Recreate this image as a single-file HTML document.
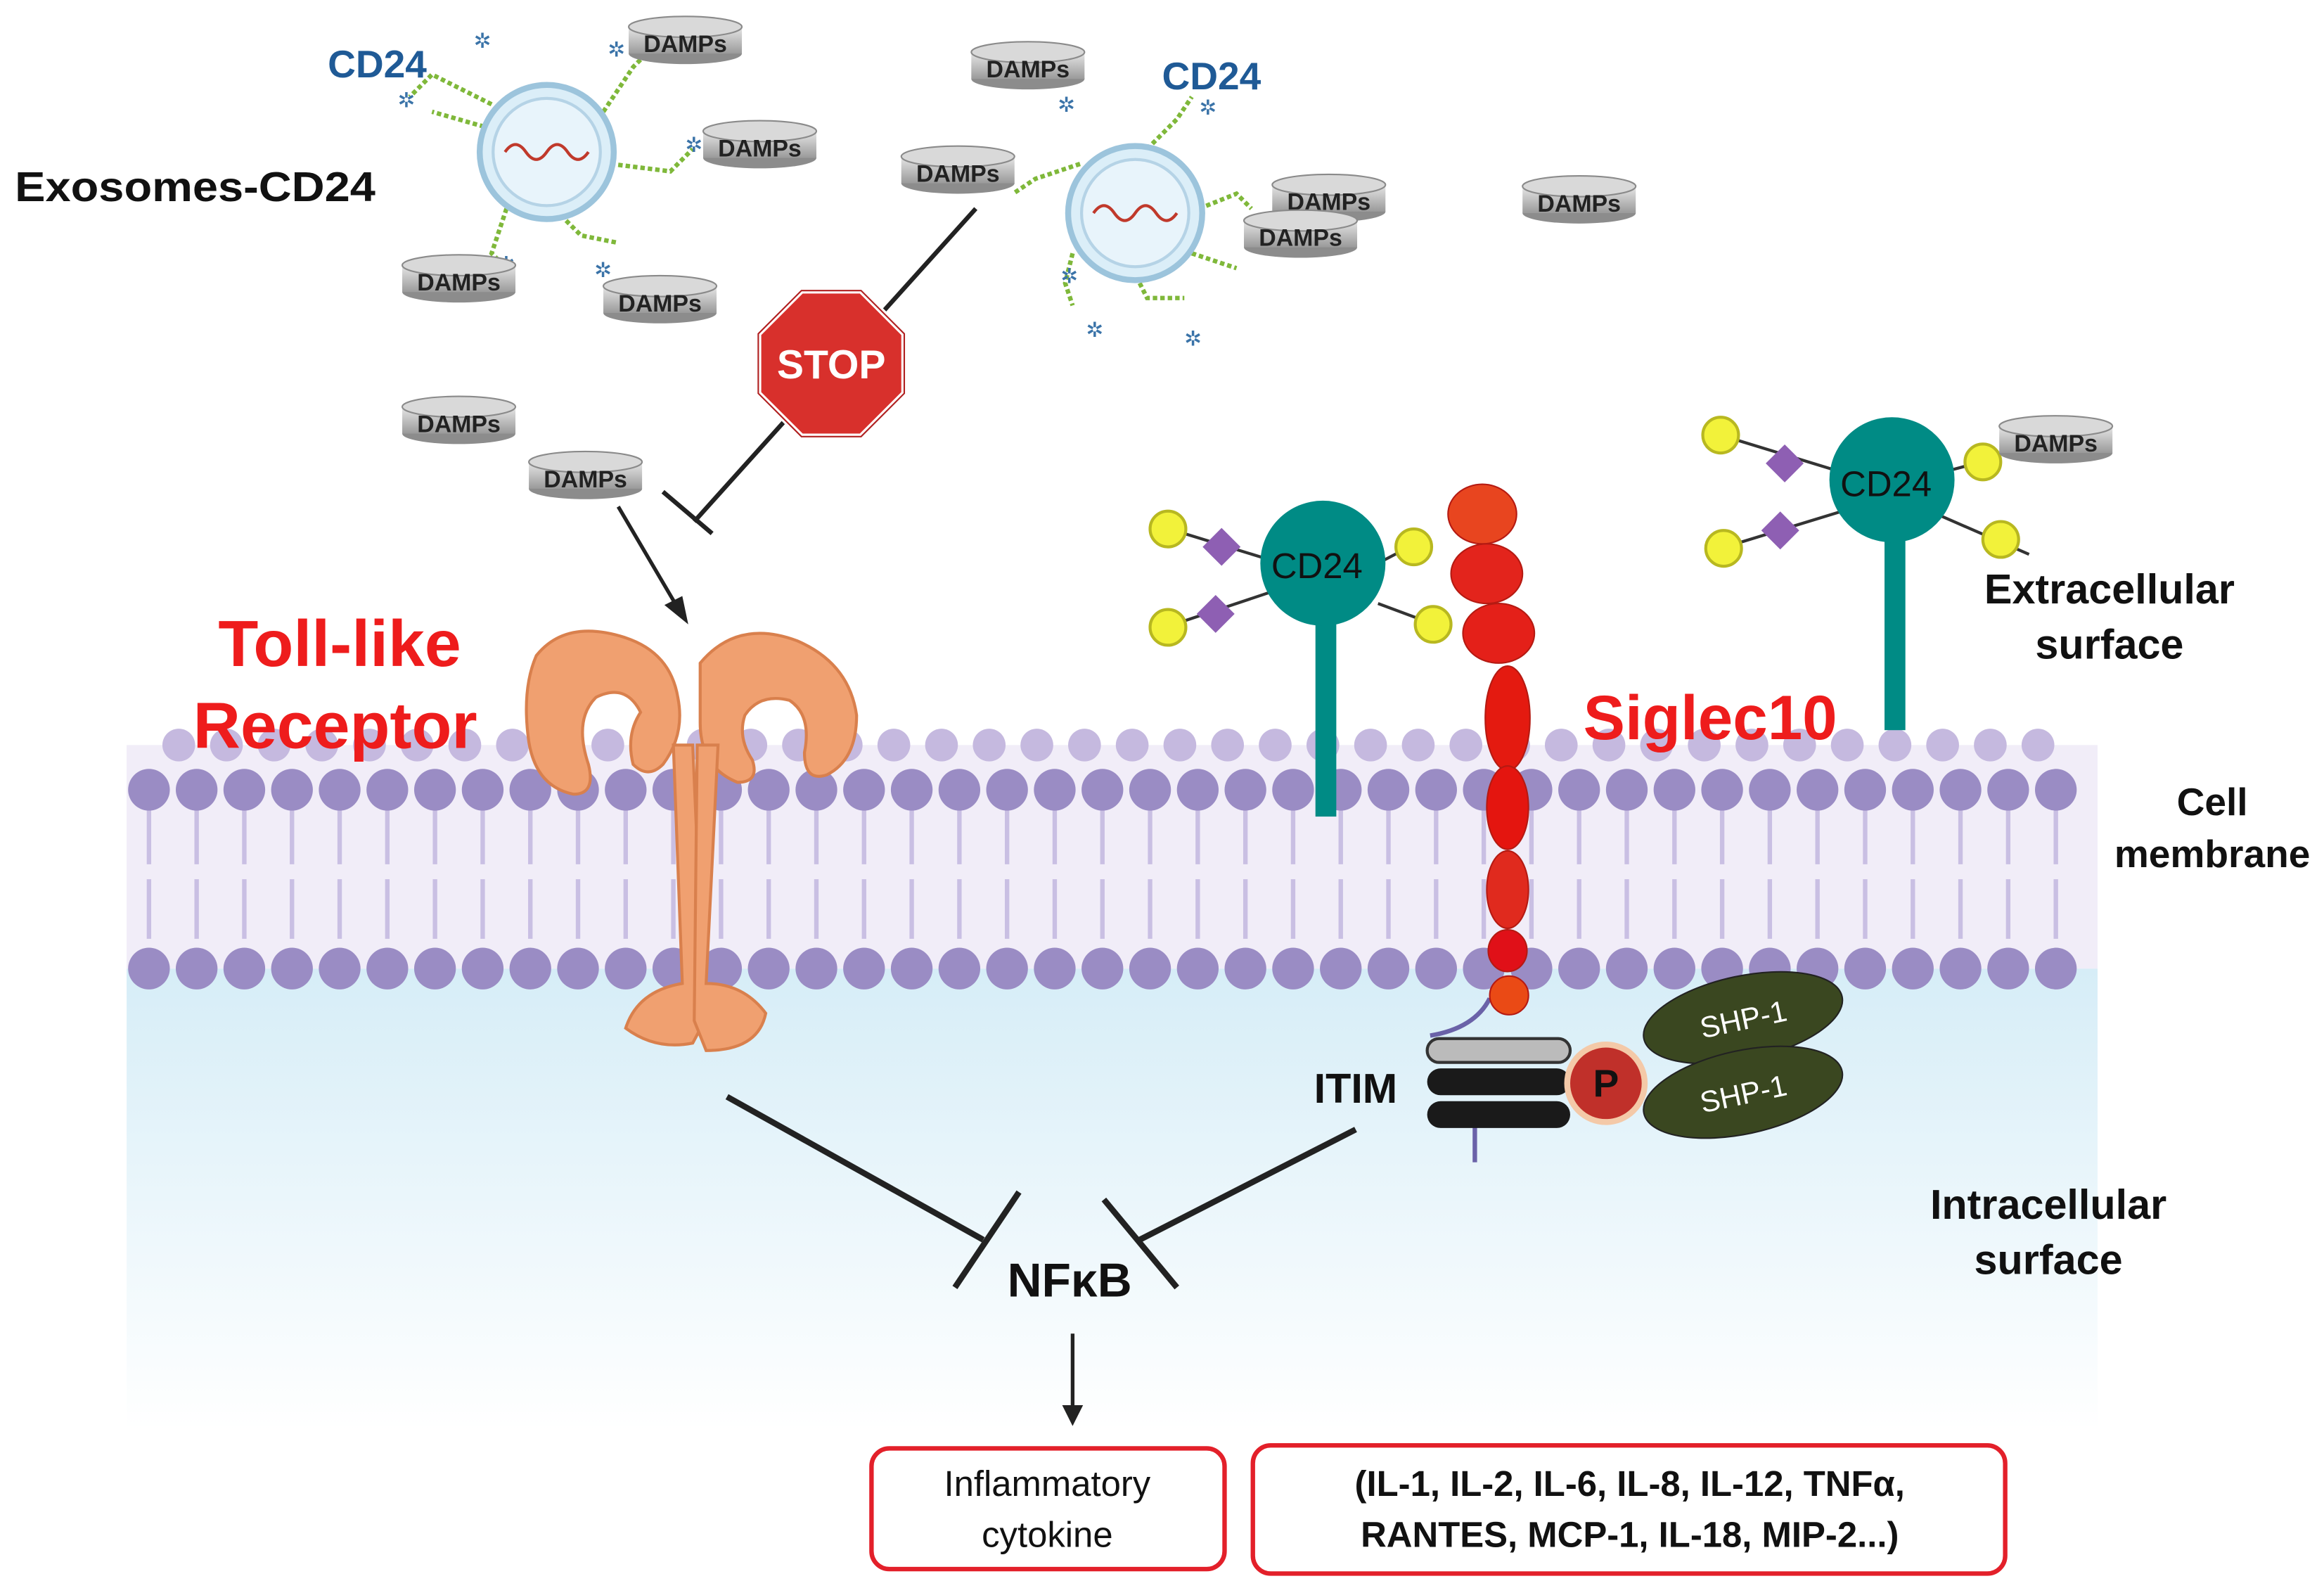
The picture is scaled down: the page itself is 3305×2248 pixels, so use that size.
<!DOCTYPE html>
<html><head><meta charset="utf-8"><style>
html,body{margin:0;padding:0;background:#fff}
svg{display:block}
text{font-family:"Liberation Sans","DejaVu Sans",sans-serif}
</style></head><body>
<svg width="3305" height="2248" viewBox="0 0 1560 1061" preserveAspectRatio="none" xmlns="http://www.w3.org/2000/svg">
<defs>
<linearGradient id="cyt" x1="0" y1="0" x2="0" y2="1">
<stop offset="0" stop-color="#d6edf7"/><stop offset="1" stop-color="#ffffff"/>
</linearGradient>
<linearGradient id="cyl" x1="0" y1="0" x2="0" y2="1">
<stop offset="0" stop-color="#e6e6e6"/><stop offset="1" stop-color="#9a9a9a"/>
</linearGradient>
<g id="damp">
<ellipse cx="0" cy="9" rx="38" ry="7" fill="#8c8c8c"/>
<rect x="-38" y="-9" width="76" height="18" fill="url(#cyl)"/>
<ellipse cx="0" cy="-9" rx="38" ry="7" fill="#d9d9d9" stroke="#8a8a8a" stroke-width="1"/>
<text x="0" y="8" font-size="16" font-weight="bold" text-anchor="middle" fill="#222">DAMPs</text>
</g>
<g id="exo">
<circle r="45" fill="#dbeef8" stroke="#9cc4dc" stroke-width="4"/>
<circle r="36" fill="#e8f4fb" stroke="#b5d3e6" stroke-width="2"/>
<path d="M-28,0 q7,-10 14,0 t14,0 t14,0 t14,0" fill="none" stroke="#c0392b" stroke-width="2"/>
</g>
</defs>

<rect x="85" y="650" width="1323" height="310" fill="url(#cyt)"/>
<rect x="85" y="500" width="1323" height="150" fill="#f1edf8"/>
<g fill="#c5b9df">
<circle cx="120" cy="500" r="11"/><circle cx="152" cy="500" r="11"/><circle cx="184" cy="500" r="11"/><circle cx="216" cy="500" r="11"/><circle cx="248" cy="500" r="11"/><circle cx="280" cy="500" r="11"/><circle cx="312" cy="500" r="11"/><circle cx="344" cy="500" r="11"/><circle cx="376" cy="500" r="11"/><circle cx="408" cy="500" r="11"/><circle cx="440" cy="500" r="11"/><circle cx="472" cy="500" r="11"/><circle cx="504" cy="500" r="11"/><circle cx="536" cy="500" r="11"/><circle cx="568" cy="500" r="11"/><circle cx="600" cy="500" r="11"/><circle cx="632" cy="500" r="11"/><circle cx="664" cy="500" r="11"/><circle cx="696" cy="500" r="11"/><circle cx="728" cy="500" r="11"/><circle cx="760" cy="500" r="11"/><circle cx="792" cy="500" r="11"/><circle cx="824" cy="500" r="11"/><circle cx="856" cy="500" r="11"/><circle cx="888" cy="500" r="11"/><circle cx="920" cy="500" r="11"/><circle cx="952" cy="500" r="11"/><circle cx="984" cy="500" r="11"/><circle cx="1016" cy="500" r="11"/><circle cx="1048" cy="500" r="11"/><circle cx="1080" cy="500" r="11"/><circle cx="1112" cy="500" r="11"/><circle cx="1144" cy="500" r="11"/><circle cx="1176" cy="500" r="11"/><circle cx="1208" cy="500" r="11"/><circle cx="1240" cy="500" r="11"/><circle cx="1272" cy="500" r="11"/><circle cx="1304" cy="500" r="11"/><circle cx="1336" cy="500" r="11"/><circle cx="1368" cy="500" r="11"/>
</g>
<path d="M100,540 V640 M132,540 V640 M164,540 V640 M196,540 V640 M228,540 V640 M260,540 V640 M292,540 V640 M324,540 V640 M356,540 V640 M388,540 V640 M420,540 V640 M452,540 V640 M484,540 V640 M516,540 V640 M548,540 V640 M580,540 V640 M612,540 V640 M644,540 V640 M676,540 V640 M708,540 V640 M740,540 V640 M772,540 V640 M804,540 V640 M836,540 V640 M868,540 V640 M900,540 V640 M932,540 V640 M964,540 V640 M996,540 V640 M1028,540 V640 M1060,540 V640 M1092,540 V640 M1124,540 V640 M1156,540 V640 M1188,540 V640 M1220,540 V640 M1252,540 V640 M1284,540 V640 M1316,540 V640 M1348,540 V640 M1380,540 V640" stroke="#c9bfe3" stroke-width="3" stroke-dasharray="40 10"/>
<g fill="#9a8cc4">
<circle cx="100" cy="530" r="14"/><circle cx="132" cy="530" r="14"/><circle cx="164" cy="530" r="14"/><circle cx="196" cy="530" r="14"/><circle cx="228" cy="530" r="14"/><circle cx="260" cy="530" r="14"/><circle cx="292" cy="530" r="14"/><circle cx="324" cy="530" r="14"/><circle cx="356" cy="530" r="14"/><circle cx="388" cy="530" r="14"/><circle cx="420" cy="530" r="14"/><circle cx="452" cy="530" r="14"/><circle cx="484" cy="530" r="14"/><circle cx="516" cy="530" r="14"/><circle cx="548" cy="530" r="14"/><circle cx="580" cy="530" r="14"/><circle cx="612" cy="530" r="14"/><circle cx="644" cy="530" r="14"/><circle cx="676" cy="530" r="14"/><circle cx="708" cy="530" r="14"/><circle cx="740" cy="530" r="14"/><circle cx="772" cy="530" r="14"/><circle cx="804" cy="530" r="14"/><circle cx="836" cy="530" r="14"/><circle cx="868" cy="530" r="14"/><circle cx="900" cy="530" r="14"/><circle cx="932" cy="530" r="14"/><circle cx="964" cy="530" r="14"/><circle cx="996" cy="530" r="14"/><circle cx="1028" cy="530" r="14"/><circle cx="1060" cy="530" r="14"/><circle cx="1092" cy="530" r="14"/><circle cx="1124" cy="530" r="14"/><circle cx="1156" cy="530" r="14"/><circle cx="1188" cy="530" r="14"/><circle cx="1220" cy="530" r="14"/><circle cx="1252" cy="530" r="14"/><circle cx="1284" cy="530" r="14"/><circle cx="1316" cy="530" r="14"/><circle cx="1348" cy="530" r="14"/><circle cx="1380" cy="530" r="14"/>
<circle cx="100" cy="650" r="14"/><circle cx="132" cy="650" r="14"/><circle cx="164" cy="650" r="14"/><circle cx="196" cy="650" r="14"/><circle cx="228" cy="650" r="14"/><circle cx="260" cy="650" r="14"/><circle cx="292" cy="650" r="14"/><circle cx="324" cy="650" r="14"/><circle cx="356" cy="650" r="14"/><circle cx="388" cy="650" r="14"/><circle cx="420" cy="650" r="14"/><circle cx="452" cy="650" r="14"/><circle cx="484" cy="650" r="14"/><circle cx="516" cy="650" r="14"/><circle cx="548" cy="650" r="14"/><circle cx="580" cy="650" r="14"/><circle cx="612" cy="650" r="14"/><circle cx="644" cy="650" r="14"/><circle cx="676" cy="650" r="14"/><circle cx="708" cy="650" r="14"/><circle cx="740" cy="650" r="14"/><circle cx="772" cy="650" r="14"/><circle cx="804" cy="650" r="14"/><circle cx="836" cy="650" r="14"/><circle cx="868" cy="650" r="14"/><circle cx="900" cy="650" r="14"/><circle cx="932" cy="650" r="14"/><circle cx="964" cy="650" r="14"/><circle cx="996" cy="650" r="14"/><circle cx="1028" cy="650" r="14"/><circle cx="1060" cy="650" r="14"/><circle cx="1092" cy="650" r="14"/><circle cx="1124" cy="650" r="14"/><circle cx="1156" cy="650" r="14"/><circle cx="1188" cy="650" r="14"/><circle cx="1220" cy="650" r="14"/><circle cx="1252" cy="650" r="14"/><circle cx="1284" cy="650" r="14"/><circle cx="1316" cy="650" r="14"/><circle cx="1348" cy="650" r="14"/><circle cx="1380" cy="650" r="14"/>
</g>

<!-- TLR -->
<g fill="#f0a070" stroke="#d9804d" stroke-width="2">
<path d="M360,440 q20,-25 60,-12 q30,10 35,40 q5,25 -10,45 q-10,10 -20,0 q-5,-20 5,-35 q-10,-20 -30,-10 q-15,15 -5,45 q5,20 -10,20 q-25,-5 -30,-35 q-5,-35 5,-58z"/>
<path d="M470,445 q25,-30 65,-15 q35,15 40,50 q0,30 -20,40 q-15,5 -15,-15 q5,-25 -10,-35 q-20,-5 -30,10 q-5,15 5,30 q5,15 -10,15 q-25,-10 -25,-40 q0,-25 0,-40z"/>
<path d="M452,500 l6,160 q-30,5 -38,30 q20,15 45,10 l8,-15 l-8,-185z"/>
<path d="M482,500 l-8,160 q25,0 40,20 q-5,25 -40,25 l-8,-20 l2,-185z"/>
</g>

<!-- CD24 left -->
<rect x="883" y="400" width="14" height="148" fill="#008b85"/>
<g stroke="#333" stroke-width="2"><line x1="785" y1="355" x2="860" y2="378"/><line x1="785" y1="420" x2="860" y2="395"/><line x1="925" y1="378" x2="948" y2="366"/><line x1="925" y1="405" x2="960" y2="418"/></g>
<circle cx="888" cy="378" r="42" fill="#008b85"/>
<text x="884" y="388" font-size="24" text-anchor="middle" fill="#111">CD24</text>
<g fill="#8e5fb3"><rect x="811" y="358" width="18" height="18" transform="rotate(45 820 367)"/><rect x="807" y="403" width="18" height="18" transform="rotate(45 816 412)"/></g>
<g fill="#f2f23a" stroke="#b8b820" stroke-width="2"><circle cx="784" cy="355" r="12"/><circle cx="784" cy="421" r="12"/><circle cx="949" cy="367" r="12"/><circle cx="962" cy="419" r="12"/></g>

<!-- CD24 right -->
<rect x="1265" y="340" width="14" height="150" fill="#008b85"/>
<g stroke="#333" stroke-width="2"><line x1="1155" y1="292" x2="1240" y2="318"/><line x1="1155" y1="368" x2="1240" y2="342"/><line x1="1300" y1="318" x2="1330" y2="310"/><line x1="1300" y1="345" x2="1362" y2="372"/></g>
<circle cx="1270" cy="322" r="42" fill="#008b85"/>
<text x="1266" y="333" font-size="24" text-anchor="middle" fill="#111">CD24</text>
<g fill="#8e5fb3"><rect x="1189" y="302" width="18" height="18" transform="rotate(45 1198 311)"/><rect x="1186" y="347" width="18" height="18" transform="rotate(45 1195 356)"/></g>
<g fill="#f2f23a" stroke="#b8b820" stroke-width="2"><circle cx="1155" cy="292" r="12"/><circle cx="1157" cy="368" r="12"/><circle cx="1331" cy="310" r="12"/><circle cx="1343" cy="362" r="12"/></g>

<!-- Siglec10 -->
<path d="M1000,670 q-10,20 -40,25 M990,755 l0,25" stroke="#6a62a8" stroke-width="3" fill="none"/>
<g fill="#e5281e" stroke="#b51a12" stroke-width="1">
<ellipse cx="995" cy="345" rx="23" ry="20" fill="#e8451f"/>
<ellipse cx="998" cy="385" rx="24" ry="20" fill="#e3241c"/>
<ellipse cx="1006" cy="425" rx="24" ry="20" fill="#e42019"/>
<ellipse cx="1012" cy="482" rx="15" ry="35" fill="#e41a10"/>
<ellipse cx="1012" cy="542" rx="14" ry="28" fill="#e4150f"/>
<ellipse cx="1012" cy="597" rx="14" ry="26" fill="#e02a1e"/>
<ellipse cx="1012" cy="638" rx="13" ry="14" fill="#e01018"/>
<ellipse cx="1013" cy="668" rx="13" ry="13" fill="#ea4a15"/>
</g>
<rect x="958" y="697" width="96" height="16" rx="8" fill="#bbb" stroke="#333" stroke-width="2"/>
<rect x="958" y="717" width="96" height="18" rx="9" fill="#1a1a1a"/>
<rect x="958" y="739" width="96" height="18" rx="9" fill="#1a1a1a"/>
<g fill="#3a4720" stroke="#222" stroke-width="1">
<ellipse cx="1170" cy="683" rx="68" ry="28" transform="rotate(-12 1170 683)"/>
<ellipse cx="1170" cy="733" rx="68" ry="28" transform="rotate(-12 1170 733)"/>
</g>
<text x="1170" y="691" font-size="20" text-anchor="middle" fill="#fff" transform="rotate(-12 1170 683)">SHP-1</text>
<text x="1170" y="741" font-size="20" text-anchor="middle" fill="#fff" transform="rotate(-12 1170 733)">SHP-1</text>
<circle cx="1078" cy="727" r="28" fill="#f4c9a8"/>
<circle cx="1078" cy="727" r="24" fill="#c0302a"/>
<text x="1078" y="736" font-size="26" font-weight="bold" text-anchor="middle" fill="#111">P</text>

<!-- Exosomes -->
<g stroke="#7fb83a" stroke-width="3" stroke-dasharray="3 2" fill="none">
<path d="M330,70 l-40,-20 l-15,15 M405,75 l20,-30 l10,-10 M410,110 l40,5 l15,-15 M340,140 l-10,30 l10,10 M380,148 l10,10 l25,5 M325,85 l-35,-10"/>
<path d="M725,110 l-30,10 l-15,10 M770,100 l20,-20 l10,-15 M805,140 l25,-10 l10,10 M720,170 l-5,20 l5,15 M765,190 l5,10 l25,0 M800,170 l30,10"/>
</g>
<use href="#exo" x="367" y="102"/>
<use href="#exo" x="762" y="143"/>
<g fill="#3a73a8" font-size="14"><text x="318" y="32">✲</text><text x="408" y="38">✲</text><text x="267" y="72">✲</text><text x="460" y="102">✲</text><text x="334" y="182">✲</text><text x="399" y="186">✲</text><text x="710" y="75">✲</text><text x="805" y="77">✲</text><text x="729" y="226">✲</text><text x="795" y="232">✲</text><text x="712" y="190">✲</text></g>

<use href="#damp" x="460" y="27"/>
<use href="#damp" x="510" y="97"/>
<use href="#damp" x="308" y="187"/>
<use href="#damp" x="443" y="201"/>
<use href="#damp" x="690" y="44"/>
<use href="#damp" x="643" y="114"/>
<use href="#damp" x="892" y="133"/>
<use href="#damp" x="873" y="157"/>
<use href="#damp" x="1060" y="134"/>
<use href="#damp" x="308" y="282"/>
<use href="#damp" x="393" y="319"/>
<use href="#damp" x="1380" y="295"/>

<line x1="655" y1="140" x2="466" y2="350" stroke="#222" stroke-width="3"/>
<line x1="445" y1="330" x2="478" y2="358" stroke="#222" stroke-width="3"/>
<polygon points="538,195 578,195 607,224 607,264 578,293 538,293 509,264 509,224" fill="#d8302c" stroke="#fff" stroke-width="4"/>
<polygon points="538,195 578,195 607,224 607,264 578,293 538,293 509,264 509,224" fill="none" stroke="#b02020" stroke-width="1"/>
<text x="558" y="254" font-size="27" font-weight="bold" text-anchor="middle" fill="#fff">STOP</text>

<line x1="415" y1="340" x2="455" y2="408" stroke="#222" stroke-width="2.5"/>
<polygon points="462,419 446,406 458,400" fill="#222"/>

<g stroke="#222" stroke-width="4">
<line x1="488" y1="736" x2="660" y2="832"/>
<line x1="641" y1="864" x2="684" y2="800"/>
<line x1="910" y1="758" x2="765" y2="832"/>
<line x1="741" y1="805" x2="790" y2="864"/>
<line x1="720" y1="895" x2="720" y2="945" stroke-width="2.5"/>
</g>
<polygon points="713,943 727,943 720,957" fill="#222"/>

<text x="10" y="135" font-size="28" font-weight="bold" fill="#111" textLength="242" lengthAdjust="spacingAndGlyphs">Exosomes-CD24</text>
<text x="220" y="52" font-size="26" fill="#1f5a96" font-weight="bold">CD24</text>
<text x="780" y="60" font-size="26" fill="#1f5a96" font-weight="bold">CD24</text>
<text x="228" y="447" font-size="44" font-weight="bold" fill="#ee1c1c" text-anchor="middle">Toll-like</text>
<text x="225" y="502" font-size="44" font-weight="bold" fill="#ee1c1c" text-anchor="middle">Receptor</text>
<text x="1148" y="496" font-size="42" font-weight="bold" fill="#ee1c1c" text-anchor="middle">Siglec10</text>
<text x="1416" y="405" font-size="28" font-weight="bold" fill="#111" text-anchor="middle">Extracellular</text>
<text x="1416" y="442" font-size="28" font-weight="bold" fill="#111" text-anchor="middle">surface</text>
<text x="1485" y="547" font-size="26" font-weight="bold" fill="#111" text-anchor="middle">Cell</text>
<text x="1485" y="582" font-size="26" font-weight="bold" fill="#111" text-anchor="middle">membrane</text>
<text x="1375" y="818" font-size="28" font-weight="bold" fill="#111" text-anchor="middle">Intracellular</text>
<text x="1375" y="855" font-size="28" font-weight="bold" fill="#111" text-anchor="middle">surface</text>
<text x="910" y="740" font-size="28" font-weight="bold" fill="#111" text-anchor="middle">ITIM</text>
<text x="718" y="870" font-size="32" font-weight="bold" fill="#111" text-anchor="middle">NFκB</text>

<rect x="585" y="972" width="237" height="81" rx="12" fill="#fff" stroke="#e3202a" stroke-width="3"/>
<text x="703" y="1004" font-size="24" text-anchor="middle" fill="#111">Inflammatory</text>
<text x="703" y="1038" font-size="24" text-anchor="middle" fill="#111">cytokine</text>
<rect x="841" y="970" width="505" height="86" rx="12" fill="#fff" stroke="#e3202a" stroke-width="3"/>
<text x="1094" y="1004" font-size="24" font-weight="bold" text-anchor="middle" fill="#111">(IL-1, IL-2, IL-6, IL-8, IL-12, TNFα,</text>
<text x="1094" y="1038" font-size="24" font-weight="bold" text-anchor="middle" fill="#111">RANTES, MCP-1, IL-18, MIP-2...)</text>
</svg>
</body></html>
